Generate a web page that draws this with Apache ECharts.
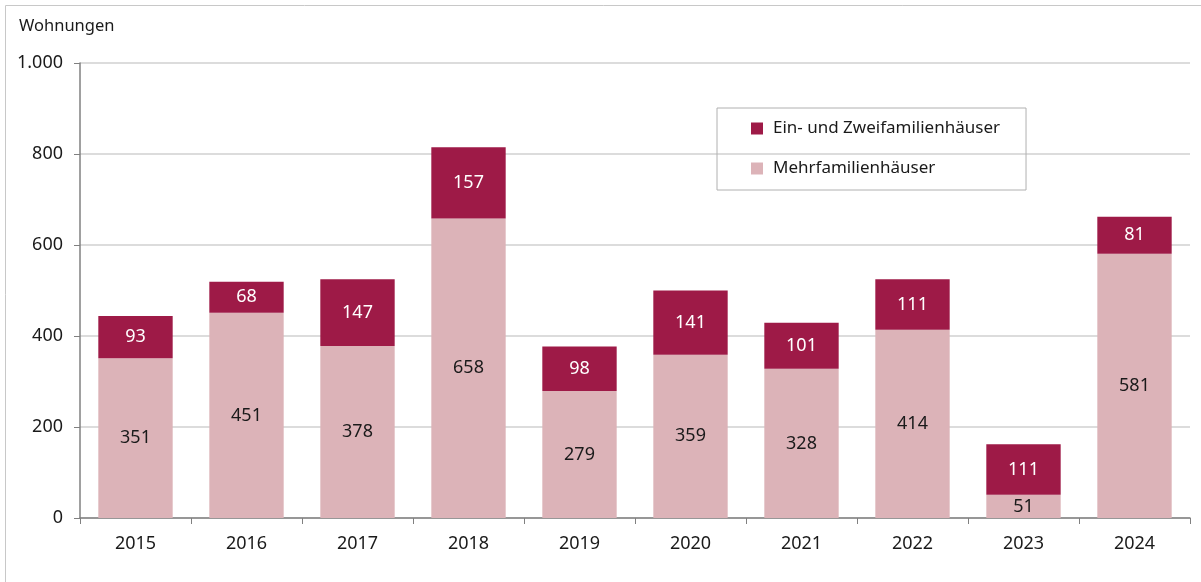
<!DOCTYPE html>
<html><head><meta charset="utf-8">
<script src="https://cdn.jsdelivr.net/npm/echarts@6/dist/echarts.min.js"></script>
<style>html,body{margin:0;padding:0;background:#fff}#c{width:1201px;height:582px}</style>
</head><body><div id="c"></div>
<script>
const years = ['2015','2016','2017','2018','2019','2020','2021','2022','2023','2024'];
const mehrfamilien = [351,451,378,658,279,359,328,414,51,581];
const einZwei = [93,68,147,157,98,141,101,111,111,81];
const yTicks = [0,200,400,600,800,1000];

const FONT = '"Noto Sans", sans-serif';
const FS = 18;
const chart = echarts.init(document.getElementById('c'));
chart.setOption({
  animation:false,
  textStyle:{fontFamily:FONT},
  graphic:[{type:'rect',shape:{x:5.5,y:5.5,width:1300,height:700},style:{fill:'none',stroke:'#c8c8c8',lineWidth:1},silent:true},
    {type:'text',left:19,top:18,style:{text:'Wohnungen',font:'16.5px '+FONT,fill:'#1a1a1a'}}],
  grid:{left:80,right:11,top:63,bottom:64,containLabel:false},
  legend:{
    orient:'vertical',left:717,top:108,
    padding:[12,26,13,34],itemGap:23,itemWidth:12,itemHeight:12,
    borderColor:'#b0b0b0',borderWidth:1,
    data:[{name:'Ein- und Zweifamilienhäuser',icon:'rect'},{name:'Mehrfamilienhäuser',icon:'rect'}],
    textStyle:{fontFamily:FONT,fontSize:17,color:'#1a1a1a',padding:[0,0,0,5]}
  },
  xAxis:{type:'category',data:years,
    axisLine:{lineStyle:{color:'#808080',width:1.5}},
    axisTick:{show:true,length:6,lineStyle:{color:'#808080'}},
    axisLabel:{color:'#1a1a1a',fontSize:FS,margin:17,fontFamily:FONT}},
  yAxis:{type:'value',min:0,max:1000,interval:200,
    axisLine:{show:true,lineStyle:{color:'#808080',width:1.5}},
    axisTick:{show:true,length:6,lineStyle:{color:'#808080'}},
    splitLine:{lineStyle:{color:'#d0d0d0',width:1.5}},
    axisLabel:{color:'#1a1a1a',fontSize:FS,margin:17,fontFamily:FONT,
      formatter:v=>yTicks.includes(v)?v.toLocaleString('de-DE'):''}},
  series:[
    {name:'Mehrfamilienhäuser',type:'bar',stack:'a',data:mehrfamilien,barWidth:'67%',
      itemStyle:{color:'#dcb3b8'},
      label:{show:true,position:'inside',color:'#1a1a1a',fontSize:FS,fontFamily:FONT}},
    {name:'Ein- und Zweifamilienhäuser',type:'bar',stack:'a',data:einZwei,barWidth:'67%',
      itemStyle:{color:'#9e1a47'},
      label:{show:true,position:'inside',color:'#ffffff',fontSize:FS,fontFamily:FONT}}
  ]
});
</script></body></html>
